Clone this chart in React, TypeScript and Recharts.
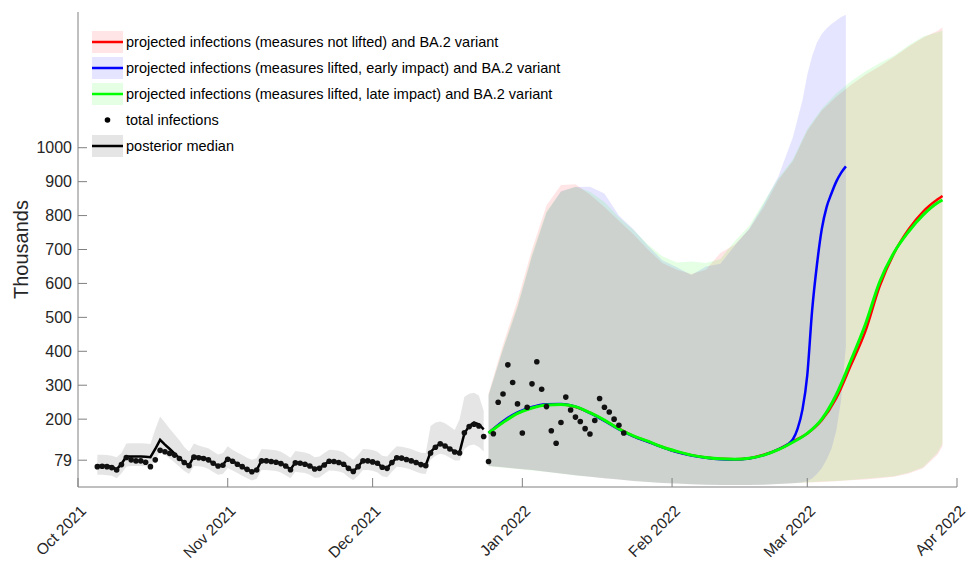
import {
  ComposedChart,
  Area,
  Line,
  Scatter,
  XAxis,
  YAxis,
  Legend,
} from "recharts"

const FONT = '"Liberation Sans", Arial, Helvetica, sans-serif'

// x axis is days since 1 Oct 2021
const monthTicks = [0, 31, 61, 92, 123, 151, 182]
const monthLabels = ["Oct 2021", "Nov 2021", "Dec 2021", "Jan 2022", "Feb 2022", "Mar 2022", "Apr 2022"]
const yTicks = [79, 200, 300, 400, 500, 600, 700, 800, 900, 1000]

// history (5 Oct .. 24 Dec), thousands
const histStart = 4
const histMedian = [
  63, 63, 62, 60, 52, 68, 90, 90, 90, 90,
  89, 88, 112, 139, 125, 112, 98, 85, 72, 64,
  90, 88, 86, 80, 70, 62, 65, 84, 76, 68,
  60, 52, 45, 50, 78, 77, 76, 74, 70, 62,
  52, 72, 70, 68, 63, 53, 55, 66, 76, 75,
  73, 68, 55, 46, 60, 78, 77, 75, 70, 58,
  56, 72, 87, 85, 82, 78, 72, 67, 64, 103,
  118, 128, 122, 112, 104, 102, 158, 180, 190, 185,
  170,
]
const histHigh = [
  95, 95, 94, 92, 88, 100, 128, 129, 129, 129,
  128, 127, 170, 208, 190, 172, 155, 138, 118, 105,
  128, 122, 118, 114, 105, 96, 100, 120, 110, 102,
  94, 86, 80, 85, 112, 111, 110, 108, 104, 96,
  86, 106, 104, 102, 97, 88, 90, 100, 110, 109,
  107, 102, 90, 80, 94, 112, 111, 109, 104, 92,
  90, 106, 120, 119, 116, 112, 106, 101, 100, 180,
  190, 193, 188, 178, 168, 200, 266, 275, 278, 270,
  225,
]
const histLow = [
  36, 36, 35, 33, 26, 40, 60, 62, 62, 62,
  61, 60, 80, 104, 95, 84, 72, 60, 47, 38,
  62, 61, 59, 53, 44, 36, 38, 56, 49, 41,
  33, 26, 19, 24, 50, 50, 49, 47, 43, 35,
  26, 45, 43, 41, 36, 27, 28, 39, 49, 48,
  46, 41, 29, 20, 33, 50, 50, 48, 43, 32,
  29, 45, 60, 58, 55, 51, 45, 40, 38, 80,
  92, 98, 94, 86, 78, 78, 112, 122, 125, 118,
  105,
]
const histDots = [
  60, 61, 60, 57, 50, 66, 87, 80, 77, 77,
  73, 60, 80, 108, 104, 99, 94, 84, 72, 63,
  88, 86, 84, 80, 70, 62, 64, 82, 76, 67,
  60, 52, 45, 50, 77, 77, 75, 73, 69, 62,
  51, 71, 70, 67, 62, 53, 55, 65, 76, 75,
  72, 67, 55, 46, 60, 77, 77, 74, 70, 58,
  55, 72, 86, 85, 81, 77, 72, 66, 63, 100,
  117, 127, 121, 112, 103, 100, 160, 178, 185, 180,
  149,
]

// reported totals after the projection start (25 Dec .. 22 Jan)
const newDotsStart = 85
const newDots = [
  75, 157, 250, 274, 360, 308, 245, 159, 235, 304,
  369, 288, 237, 166, 129, 190, 265, 227, 206, 193,
  172, 156, 196, 261, 235, 221, 200, 182, 159,
]

// projections: measures not lifted (red) and lifted, late impact (green)
const projDays = [
  85, 88, 91, 94, 97, 100, 103, 106, 109, 112,
  115, 118, 121, 124, 127, 130, 133, 136, 139, 142,
  145, 148, 151, 154, 157, 160, 163, 166, 169, 172,
  175, 178, 179,
]
const redMedian = [
  159, 192, 218, 234, 243, 244, 236, 219, 196, 172,
  150, 134, 118, 104, 94, 87, 83, 82, 85, 95,
  111, 134, 158, 197, 262, 358, 458, 592, 690, 760,
  812, 848, 858,
]
const redHigh = [
  275, 420, 550, 700, 830, 890, 892, 862, 825, 785,
  745, 700, 660, 640, 628, 640, 690, 715, 760, 825,
  905, 960, 1050, 1110, 1150, 1185, 1215, 1240, 1268, 1298,
  1325, 1345, 1355,
]
const redLow = [
  62, 58, 54, 50, 45, 40, 35, 30, 26, 22,
  18, 15, 12, 10, 8, 7, 6, 6, 6, 7,
  9, 11, 13, 15, 17, 20, 22, 26, 30, 40,
  55, 96, 120,
]
const greenMedian = [
  159, 190, 217, 233, 242, 243, 237, 219, 197, 171,
  151, 135, 118, 105, 94, 87, 83, 82, 85, 94,
  110, 132, 158, 200, 272, 372, 478, 605, 692, 753,
  802, 838, 846,
]
const greenHigh = [
  272, 410, 535, 685, 812, 870, 885, 870, 840, 795,
  758, 715, 680, 662, 665, 660, 672, 725, 770, 840,
  910, 965, 1055, 1115, 1160, 1195, 1225, 1250, 1272, 1302,
  1328, 1340, 1345,
]
const greenLow = [
  61, 57, 53, 49, 44, 39, 34, 30, 26, 22,
  18, 15, 12, 10, 8, 7, 6, 6, 6, 7,
  9, 11, 13, 16, 18, 21, 24, 28, 32, 42,
  58, 102, 128,
]

// measures lifted, early impact (blue), runs to 9 Mar
const blueDays = [
  85, 88, 91, 94, 97, 100, 103, 106, 109, 112,
  115, 118, 121, 124, 127, 130, 133, 136, 139, 142,
  145, 147, 148, 149, 150, 151, 152, 153, 154, 155,
  156, 157, 158, 159,
]
const blueMedian = [
  159, 194, 220, 236, 244, 245, 237, 218, 195, 170,
  149, 133, 117, 103, 93, 86, 82, 81, 84, 94,
  111, 126, 140, 172, 228, 330, 520, 655, 760, 825,
  865, 900, 926, 945,
]
const blueBandDays = [
  85, 88, 91, 94, 97, 100, 103, 106, 109, 112,
  115, 118, 121, 124, 127, 130, 133, 136, 139, 142,
  145, 148, 150, 151, 152, 153, 154, 155, 156, 157,
  158, 159,
]
const blueHigh = [
  270, 405, 530, 680, 808, 872, 884, 885, 865, 800,
  760, 712, 668, 648, 625, 650, 658, 712, 762, 835,
  915, 1030, 1140, 1215, 1270, 1310, 1335, 1352, 1365, 1375,
  1385, 1392,
]
const blueLow = [
  62, 58, 54, 50, 45, 40, 35, 30, 26, 22,
  18, 15, 12, 10, 8, 7, 6, 6, 6, 7,
  9, 11, 14, 18, 25, 38, 55, 80, 112, 165,
  255, 415,
]

const points = (days: number[], values: number[]) =>
  values.map((v, i) => ({ day: days[i], value: v }))
const band = (days: number[], low: number[], high: number[]) =>
  low.map((v, i) => ({ day: days[i], range: [v, high[i]] }))

const histDays = histMedian.map((_, i) => histStart + i)
const histLine = points(histDays, histMedian)
const histBand = band(histDays, histLow, histHigh)
const dotData = [
  ...points(histDays, histDots),
  ...points(newDots.map((_, i) => newDotsStart + i), newDots),
]
const redLine = points(projDays, redMedian)
const greenLine = points(projDays, greenMedian)
const blueLine = points(blueDays, blueMedian)
const redBand = band(projDays, redLow, redHigh)
const greenBand = band(projDays, greenLow, greenHigh)
const blueBand = band(blueBandDays, blueLow, blueHigh)

const legendRows = [
  { label: "projected infections (measures not lifted) and BA.2 variant", line: "#ff0000", fill: "#ffe5e5" },
  { label: "projected infections (measures lifted, early impact) and BA.2 variant", line: "#0000ff", fill: "#e5e5ff" },
  { label: "projected infections (measures lifted, late impact) and BA.2 variant", line: "#00ff00", fill: "#e5ffe5" },
  { label: "total infections", line: "", fill: "" },
  { label: "posterior median", line: "#000000", fill: "#e5e5e5" },
]

function LegendBox() {
  return (
    <div style={{ fontFamily: FONT, fontSize: 14.5, color: "#000" }}>
      {legendRows.map((row) => (
        <div key={row.label} style={{ display: "flex", alignItems: "center", height: 26 }}>
          <svg width={31} height={22} style={{ display: "block", marginRight: 3 }}>
            {row.fill && <rect x={0} y={0} width={31} height={22} fill={row.fill} />}
            {row.line && <line x1={0} x2={31} y1={11} y2={11} stroke={row.line} strokeWidth={2.5} />}
            {!row.line && <circle cx={15.5} cy={11} r={2.8} fill="#000" />}
          </svg>
          <span style={{ whiteSpace: "nowrap" }}>{row.label}</span>
        </div>
      ))}
    </div>
  )
}

function XTick({ x, y, payload }: any) {
  const label = monthLabels[monthTicks.indexOf(payload.value)]
  return (
    <g>
      <line x1={x} x2={x} y1={y} y2={y - 9} stroke="#808080" />
      <text
        transform={`translate(${x + 9},${y + 25}) rotate(-45)`}
        textAnchor="end"
        fontSize={15.5}
        fontFamily={FONT}
        fill="#262626"
      >
        {label}
      </text>
    </g>
  )
}

function YTick({ x, y, payload }: any) {
  return (
    <g>
      <line x1={x + 6} x2={x + 15} y1={y} y2={y} stroke="#808080" />
      <text x={x} y={y} dy="0.35em" textAnchor="end" fontSize={16} fontFamily={FONT} fill="#262626">
        {payload.value}
      </text>
    </g>
  )
}

function YLabel({ viewBox }: any) {
  const cx = viewBox.x + 28
  const cy = viewBox.y + viewBox.height / 2
  return (
    <text
      x={cx}
      y={cy}
      transform={`rotate(-90 ${cx} ${cy})`}
      textAnchor="middle"
      fontSize={20}
      fontFamily={FONT}
      fill="#262626"
    >
      Thousands
    </text>
  )
}

export default function App() {
  return (
    <div style={{ position: "absolute", left: 0, top: 0, width: 968, height: 568, background: "#fff" }}>
      <ComposedChart width={968} height={568} margin={{ top: 12, right: 11, bottom: 1, left: 0 }}>
        <XAxis
          type="number"
          dataKey="day"
          domain={[0, 182]}
          ticks={monthTicks}
          interval={0}
          height={80}
          tickSize={0}
          tickMargin={0}
          tickLine={false}
          axisLine={{ stroke: "#808080" }}
          tick={<XTick />}
        />
        <YAxis
          type="number"
          domain={[0, 1400]}
          ticks={yTicks}
          interval={0}
          width={78}
          tickSize={0}
          tickMargin={6}
          tickLine={false}
          axisLine={{ stroke: "#808080" }}
          tick={<YTick />}
          label={<YLabel />}
        />
        <Legend
          content={<LegendBox />}
          layout="horizontal"
          verticalAlign="middle"
          align="center"
          wrapperStyle={{ top: 29, left: 92, width: "auto" }}
        />
        <Area data={histBand} dataKey="range" type="linear" stroke="none" fill="#000000" fillOpacity={0.1} isAnimationActive={false} />
        <Area data={redBand} dataKey="range" type="linear" stroke="none" fill="#ff0000" fillOpacity={0.1} isAnimationActive={false} />
        <Area data={blueBand} dataKey="range" type="linear" stroke="none" fill="#0000ff" fillOpacity={0.1} isAnimationActive={false} />
        <Area data={greenBand} dataKey="range" type="linear" stroke="none" fill="#00ff00" fillOpacity={0.1} isAnimationActive={false} />
        <Line data={histLine} dataKey="value" type="linear" stroke="#000" strokeWidth={2.5} dot={false} isAnimationActive={false} />
        <Scatter
          data={dotData}
          dataKey="value"
          fill="#000"
          shape={(p: any) => <circle cx={p.cx} cy={p.cy} r={2.8} fill="#111" />}
          isAnimationActive={false}
        />
        <Line data={redLine} dataKey="value" type="monotone" stroke="#ff0000" strokeWidth={2.5} dot={false} isAnimationActive={false} />
        <Line data={blueLine} dataKey="value" type="monotone" stroke="#0000ff" strokeWidth={2.5} dot={false} isAnimationActive={false} />
        <Line data={greenLine} dataKey="value" type="monotone" stroke="#00ff00" strokeWidth={3} dot={false} isAnimationActive={false} />
      </ComposedChart>
    </div>
  )
}
